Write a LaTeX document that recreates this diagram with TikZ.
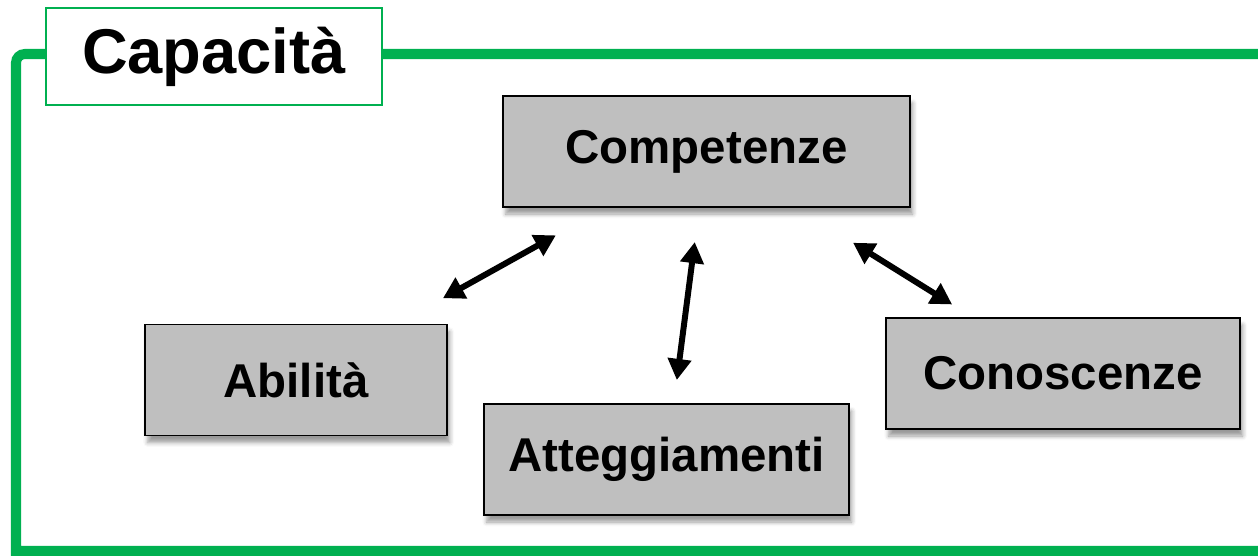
\documentclass[tikz,border=0pt]{standalone}
\usepackage{fontspec}
\setmainfont{Liberation Sans}
\usepackage{xcolor}
\definecolor{framegreen}{RGB}{0,176,80}
\usetikzlibrary{arrows.meta,calc,shadows.blur}

\begin{document}
\begin{tikzpicture}[thick, state/.style = {draw, rectangle, fill=gray!50, line width=1pt, minimum height=2.22cm, font=\bfseries\fontsize{27}{32}\selectfont, blur shadow={shadow xshift=1.5pt, shadow yshift=-4pt, shadow blur radius=2.5pt}},
title/.style = {draw=framegreen, fill=white, line width=1pt, minimum width=6.72cm, minimum height=1.94cm, font=\bfseries\fontsize{36}{43}\selectfont},
link/.style = {{Triangle[length=12pt,width=13pt]}-{Triangle[length=12pt,width=13pt]}, line width=3.4pt}]

    \useasboundingbox (0,0) rectangle (25.16,11.1);

    % green frame, open on the right
    \draw[framegreen, line width=5.7pt] (25.16,10.02) [rounded corners=5pt] -- (0.32,10.02) -- (0.32,5) [sharp corners] -- (0.32,0.08) -- (25.16,0.08);

    \node[title] (0) at (4.28,9.97) {Capacità};

    \node[state, minimum width=8.14cm] (1) at (14.13,8.07) {Competenze};
    \node[state, minimum width=6.04cm] (2) at (5.92,3.5) {Abilità};
    \node[state, minimum width=7.3cm] (3) at (13.33,1.91) {Atteggiamenti};
    \node[state, minimum width=7.08cm] (4) at (21.26,3.63) {Conoscenze};

    \draw [link] ($(2)!0.358!(1)$) -- ($(2)!0.633!(1)$);
    \draw [link] ($(3)!0.258!(1)$) -- ($(3)!0.706!(1)$);
    \draw [link] ($(4)!0.311!(1)$) -- ($(4)!0.589!(1)$);

\end{tikzpicture}
\end{document}
